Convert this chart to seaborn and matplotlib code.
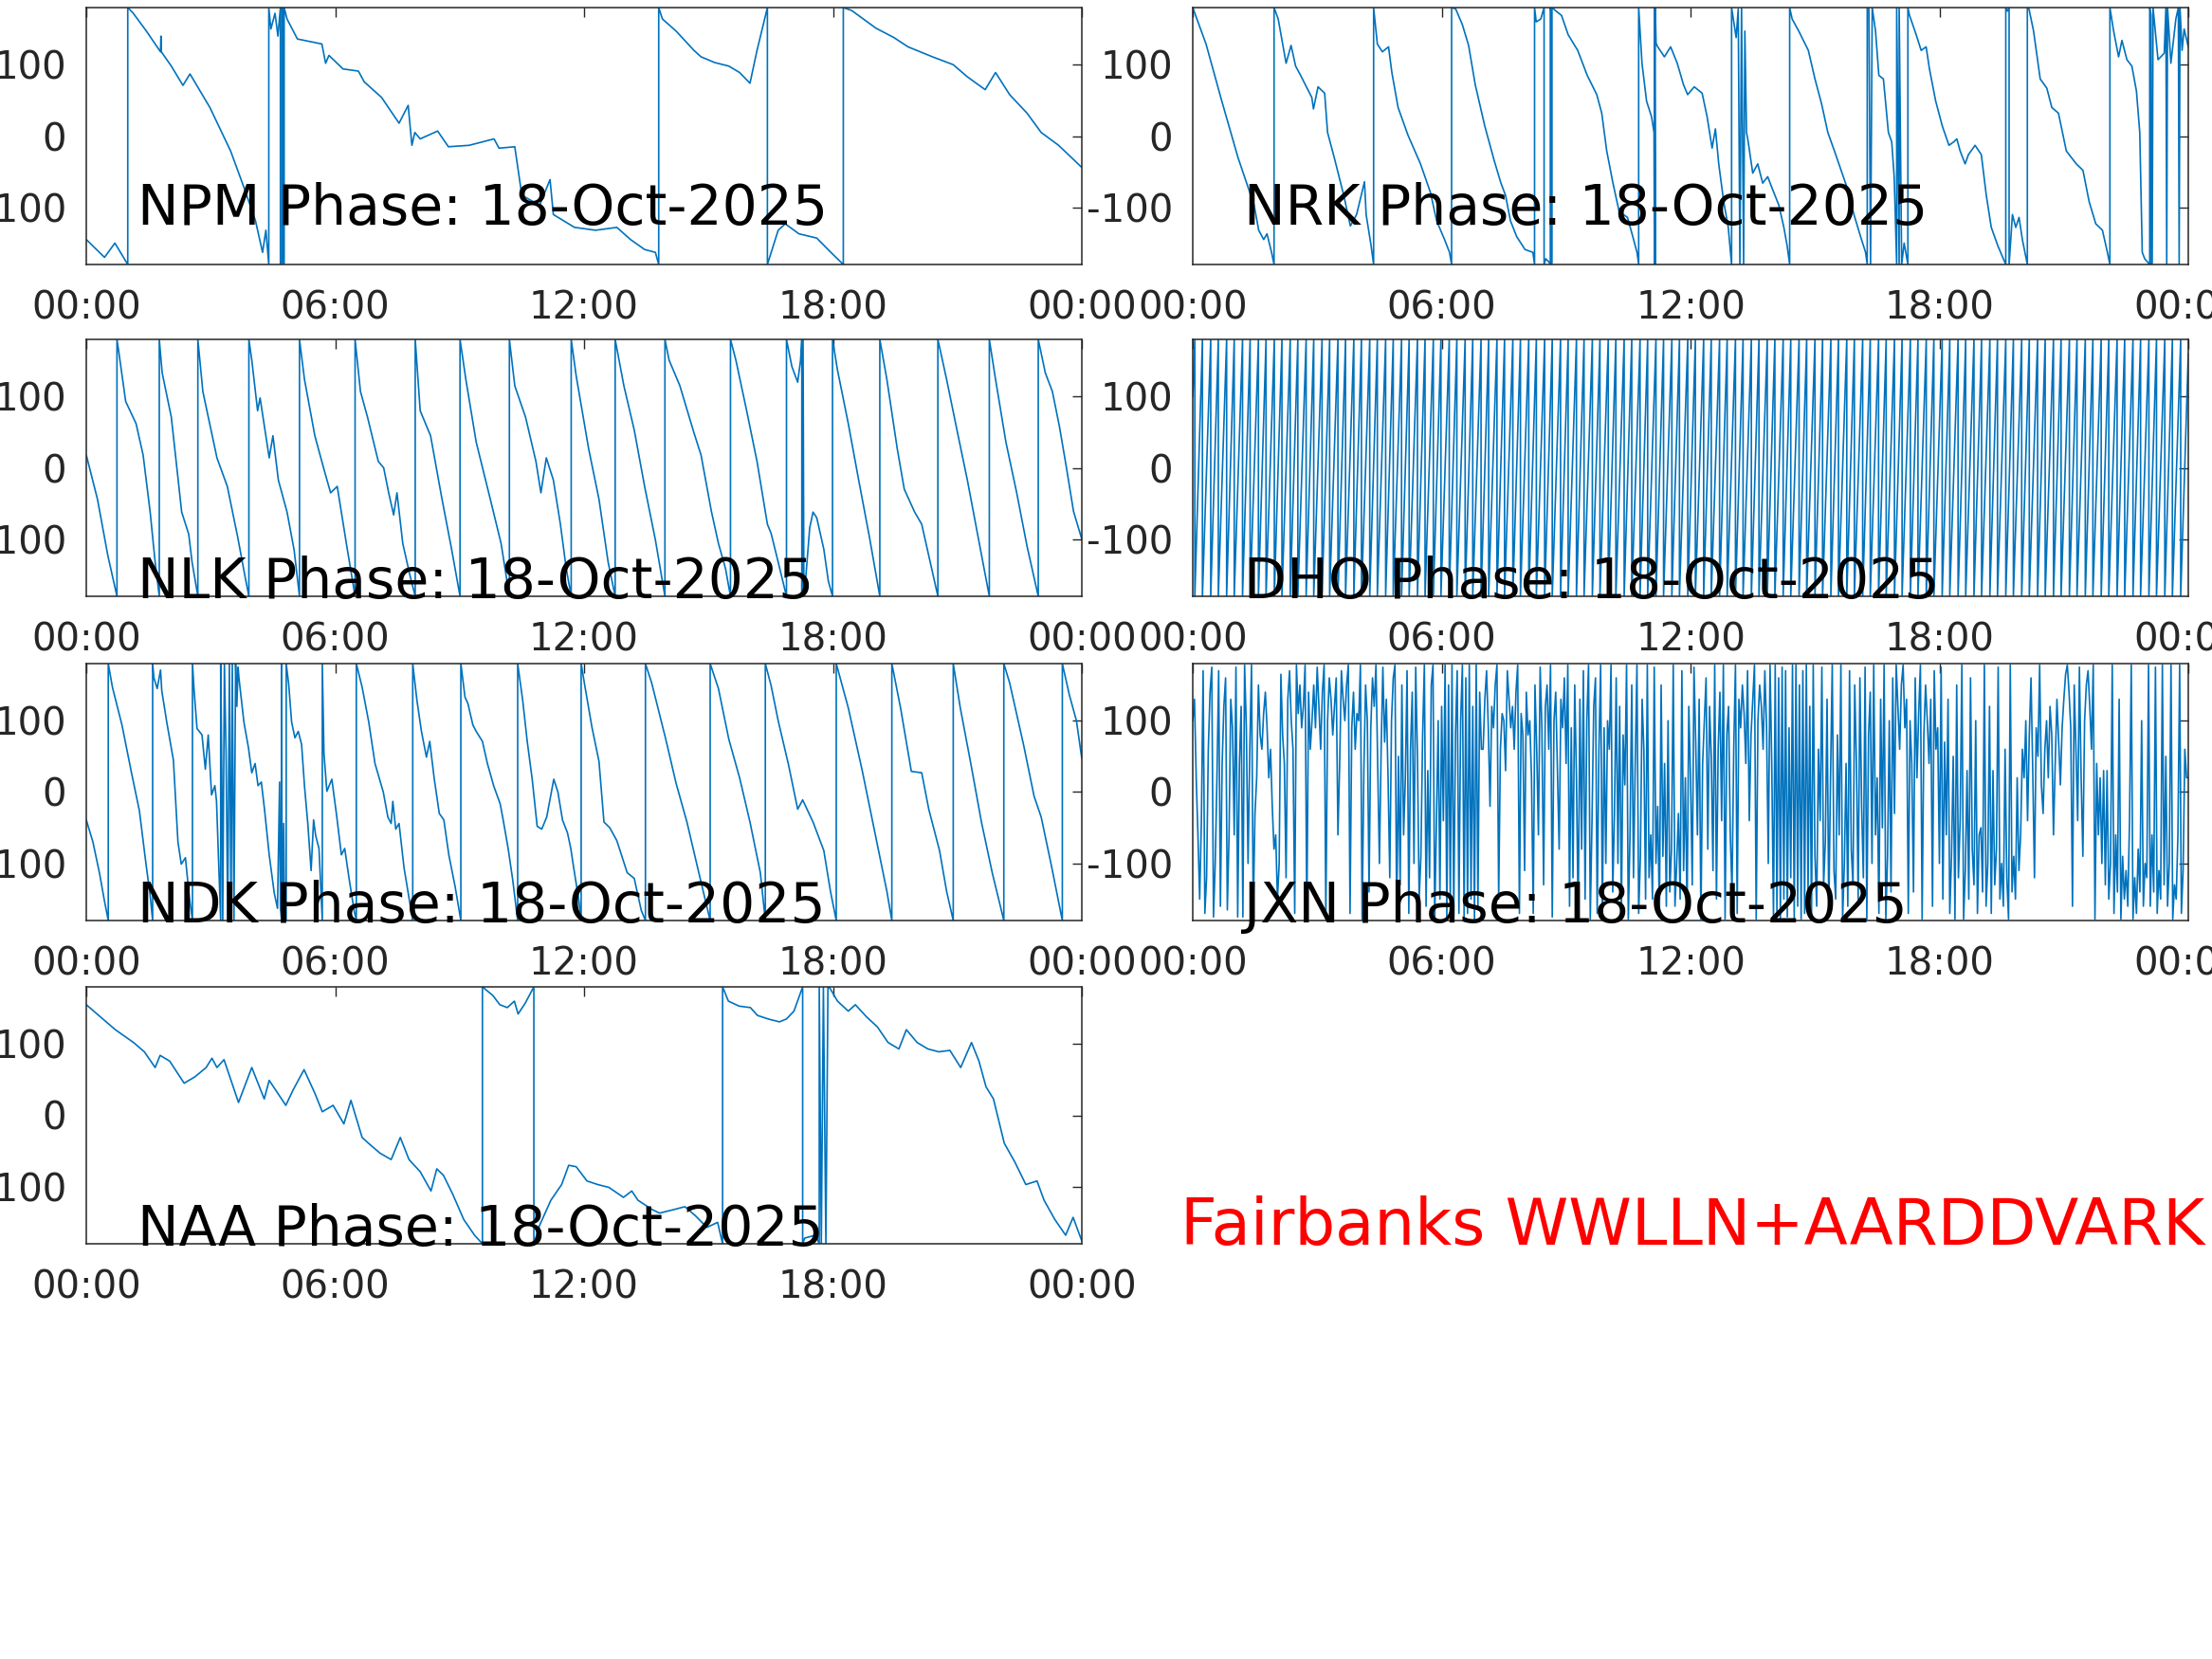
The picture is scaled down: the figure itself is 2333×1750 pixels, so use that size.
import matplotlib
matplotlib.use("Agg")
import matplotlib.pyplot as plt
import seaborn as sns

# station phase traces: time in hours (UT), phase in degrees
# a wrap is written as two points at the same time (+180 / -180)
npm_t = [0.00, 0.44, 0.69, 1.00, 1.00, 1.12, 1.45, 1.79, 1.80, 1.81, 2.05, 2.33, 2.50, 2.98, 3.48, 3.82, 4.08, 4.25, 4.33, 4.40,
         4.40, 4.45, 4.55, 4.62, 4.68, 4.68, 4.72, 4.72, 4.74, 4.74, 4.77, 4.77, 4.84, 5.09, 5.68, 5.77, 5.85, 6.19, 6.56, 6.70,
         7.12, 7.54, 7.76, 7.85, 7.92, 8.05, 8.47, 8.73, 9.23, 9.83, 9.95, 10.33, 10.50, 10.93, 11.18, 11.26, 11.77, 12.28, 12.79,
         13.12, 13.46, 13.72, 13.80, 13.80, 13.89, 14.22, 14.65, 14.82, 15.15, 15.49, 15.75, 16.00, 16.17, 16.42, 16.42, 16.68,
         16.85, 17.18, 17.61, 17.95, 18.25, 18.25, 18.45, 19.04, 19.47, 19.81, 20.40, 20.90, 21.24, 21.67, 21.92, 22.26, 22.68,
         23.02, 23.44, 24.00]
npm_p = [-145, -170, -150, -180, 180, 173, 147, 118, 140, 118, 98, 71, 87, 40, -21, -75, -119, -163, -132, -180,
         180, 150, 172, 140, 180, -180, -175, 180, 170, -180, -178, 180, 164, 136, 129, 102, 113, 94, 91, 76,
         54, 18, 43, -13, 5, -4, 7, -15, -13, -4, -17, -15, -83, -97, -61, -110, -128, -132, -128,
         -145, -159, -163, -180, 180, 164, 147, 120, 111, 103, 98, 89, 74, 120, 180, -180, -132,
         -123, -137, -143, -163, -180, 180, 176, 151, 138, 125, 111, 100, 83, 65, 89, 58, 32,
         5, -13, -44]

nrk_t = [0.00, 0.32, 0.70, 1.09, 1.48, 1.59, 1.71, 1.79, 1.90, 1.96,
         1.96, 2.06, 2.25, 2.37, 2.48, 2.60, 2.87, 2.91, 3.02, 3.18, 3.25, 3.41, 3.64, 3.80, 3.95, 4.14, 4.18, 4.30, 4.36,
         4.36, 4.45, 4.57, 4.72, 4.80, 4.95, 5.19, 5.49, 5.73, 5.88, 6.07, 6.19, 6.24,
         6.24, 6.34, 6.50, 6.65, 6.81, 7.04, 7.27, 7.43, 7.54, 7.66, 7.81, 8.01, 8.20, 8.24,
         8.24, 8.28, 8.39, 8.47, 8.47, 8.51, 8.58, 8.62, 8.62, 8.64, 8.64, 8.66, 8.66, 8.74, 8.89, 9.05, 9.28, 9.51, 9.74,
         9.86, 9.98, 10.13, 10.28, 10.48, 10.59, 10.71, 10.75,
         10.75, 10.83, 10.94, 11.06, 11.12, 11.13, 11.13, 11.15, 11.15, 11.17, 11.21, 11.37, 11.52, 11.68, 11.83, 11.93,
         12.09, 12.28, 12.40, 12.52, 12.60, 12.68, 12.80, 12.91, 12.99,
         12.99, 13.10, 13.15, 13.19, 13.23, 13.28, 13.31, 13.35, 13.39, 13.50, 13.62, 13.74, 13.86, 13.98, 14.13, 14.25,
         14.33, 14.39,
         14.39, 14.45, 14.61, 14.84, 15.00, 15.16, 15.31, 15.47, 15.63, 15.79, 15.94, 16.10, 16.22, 16.26,
         16.26, 16.30, 16.34, 16.38, 16.46, 16.54, 16.65, 16.77, 16.85, 16.91, 16.97, 16.97, 17.03, 17.03, 17.09, 17.15,
         17.24, 17.24, 17.28, 17.44, 17.56, 17.68, 17.76, 17.91, 18.07, 18.23, 18.35, 18.42, 18.50, 18.62, 18.70, 18.86,
         19.01, 19.13, 19.25, 19.41, 19.60,
         19.60, 19.64, 19.68, 19.68, 19.76, 19.84, 19.92, 20.00, 20.12,
         20.12, 20.16, 20.27, 20.43, 20.59, 20.71, 20.87, 21.06, 21.30, 21.46, 21.61, 21.77, 21.93, 22.05, 22.11,
         22.11, 22.20, 22.32, 22.40, 22.52, 22.64, 22.75, 22.83, 22.89, 22.95, 23.07, 23.07, 23.10, 23.11, 23.13, 23.15,
         23.27, 23.42, 23.46, 23.48, 23.50, 23.58, 23.70, 23.76, 23.78, 23.80, 23.85, 23.90, 24.00]
nrk_p = [180, 129, 49, -30, -97, -132, -145, -137, -163, -180,
         180, 164, 102, 127, 98, 85, 54, 38, 69, 60, 5, -30, -83, -126, -110, -64, -110, -154, -180,
         180, 129, 118, 125, 89, 40, 1, -39, -79, -119, -145, -163, -180,
         180, 178, 156, 127, 72, 14, -35, -66, -83, -119, -141, -159, -163, -180,
         180, 160, 164, 180, -180, -172, -176, -180, 180, 175, -180, -178, 180, 176, 169, 142, 120, 85, 58,
         32, -21, -66, -106, -114, -137, -163, -180,
         180, 102, 49, 27, 5, -180, 180, -180, 180, 130, 125, 111, 125, 102, 72, 58,
         69, 60, 27, -17, 10, -39, -92, -128, -180,
         180, 138, 178, -180, 180, -180, 147, 5, -8, -52, -39, -66, -57, -75, -97, -128,
         -154, -180,
         180, 164, 147, 120, 80, 45, 5, -21, -48, -75, -110, -141, -163, -180,
         180, 178, -180, 180, 147, 85, 80, 5, -8, -57, -180, 180, -180, 180, -180, -150,
         -180, 180, 169, 142, 120, 125, 94, 49, 14, -13, -8, -4, -21, -39, -26, -13,
         -26, -83, -128, -154, -180,
         180, 175, 180, -180, -110, -128, -114, -145, -180,
         180, 178, 147, 80, 67, 40, 32, -21, -39, -48, -92, -123, -132, -163, -180,
         180, 147, 111, 134, 107, 98, 63, 5, -163, -172, -180, 180, 170, -180, -178, 180,
         107, 116, 180, -180, 180, 102, 164, 180, -180, 180, 120, 150, 125]

nlk_t = [0.00, 0.27, 0.52, 0.74,
         0.74, 0.78, 0.95, 1.20, 1.37, 1.54, 1.66, 1.76,
         1.76, 1.83, 2.05, 2.30, 2.47, 2.55, 2.69,
         2.69, 2.81, 3.15, 3.40, 3.65, 3.82, 3.92,
         3.92, 3.99, 4.13, 4.19, 4.33, 4.41, 4.50, 4.63, 4.84, 5.01, 5.14,
         5.14, 5.26, 5.51, 5.72, 5.89, 6.05, 6.27, 6.48,
         6.48, 6.61, 6.78, 7.04, 7.17, 7.29, 7.41, 7.49, 7.63, 7.80, 7.93,
         7.93, 8.05, 8.30, 8.56, 8.81, 9.01,
         9.01, 9.15, 9.40, 9.74, 10.00, 10.20,
         10.20, 10.33, 10.59, 10.84, 10.96, 11.09, 11.26, 11.43, 11.57, 11.69,
         11.69, 11.81, 12.11, 12.36, 12.58, 12.75,
         12.75, 12.96, 13.21, 13.46, 13.72, 13.95,
         13.95, 14.05, 14.31, 14.65, 14.82, 15.07, 15.24, 15.41, 15.53,
         15.53, 15.66, 15.92, 16.17, 16.42, 16.51, 16.68, 16.88,
         16.88, 17.01, 17.15, 17.22, 17.25, 17.25, 17.28, 17.30, 17.35, 17.44, 17.52, 17.61, 17.78, 17.89, 17.99,
         17.99, 18.11, 18.37, 18.62, 18.88, 19.13,
         19.13, 19.30, 19.55, 19.72, 19.89, 19.97, 20.14, 20.31, 20.53,
         20.53, 20.74, 20.99, 21.24, 21.50, 21.77,
         21.77, 21.92, 22.17, 22.43, 22.68, 22.95,
         22.95, 23.12, 23.29, 23.46, 23.63, 23.80, 24.00]
nlk_p = [18, -44, -123, -180,
         180, 164, 93, 62, 18, -62, -132, -180,
         180, 133, 71, -62, -93, -132, -180,
         180, 107, 14, -26, -97, -150, -180,
         180, 151, 80, 98, 45, 14, 45, -17, -62, -115, -180,
         180, 124, 45, 0, -35, -26, -106, -180,
         180, 107, 71, 9, 0, -35, -66, -35, -106, -150, -180,
         180, 80, 45, -39, -115, -180,
         180, 124, 36, -44, -106, -180,
         180, 115, 71, 9, -35, 14, -17, -79, -141, -180,
         180, 129, 27, -44, -132, -180,
         180, 115, 53, -26, -101, -180,
         180, 151, 115, 49, 18, -61, -106, -141, -180,
         180, 151, 80, 9, -79, -92, -132, -180,
         180, 142, 120, 151, 180, -180, 180, -180, -150, -84, -62, -70, -114, -159, -180,
         180, 137, 62, -17, -97, -180,
         180, 124, 27, -30, -52, -62, -79, -123, -180,
         180, 124, 53, -17, -97, -180,
         180, 124, 36, -35, -110, -180,
         180, 133, 107, 58, 0, -61, -100]

ndk_t = [0.00, 0.16, 0.32, 0.43, 0.53,
         0.53, 0.63, 0.86, 1.09, 1.28, 1.44, 1.54, 1.60,
         1.60, 1.63, 1.71, 1.79, 1.82, 1.94, 2.10, 2.21, 2.29, 2.39, 2.48, 2.56,
         2.56, 2.60, 2.67, 2.79, 2.87, 2.94, 3.02, 3.10, 3.14, 3.18, 3.24, 3.24, 3.27, 3.29, 3.33, 3.37, 3.41, 3.45,
         3.49, 3.52, 3.56, 3.60, 3.63, 3.66, 3.68, 3.80, 3.91, 3.99, 4.07, 4.14, 4.22, 4.30, 4.41, 4.53, 4.61, 4.66,
         4.68, 4.71, 4.71, 4.72, 4.76, 4.78, 4.82, 4.82,
         4.88, 4.95, 5.03, 5.11, 5.19, 5.26, 5.34, 5.42, 5.48, 5.53, 5.61, 5.69,
         5.69, 5.73, 5.80, 5.92, 6.04, 6.15, 6.23, 6.34, 6.46, 6.51,
         6.51, 6.65, 6.81, 6.96, 7.16, 7.27, 7.35, 7.39, 7.46, 7.54, 7.66, 7.77, 7.87,
         7.87, 7.97, 8.08, 8.20, 8.28, 8.39, 8.51, 8.62, 8.74, 8.89, 9.03,
         9.03, 9.13, 9.20, 9.32, 9.40, 9.55, 9.67, 9.82, 9.98, 10.05, 10.17, 10.28, 10.40,
         10.40, 10.52, 10.63, 10.75, 10.87, 10.98, 11.10, 11.17, 11.27, 11.37, 11.48, 11.60, 11.68, 11.75, 11.87, 11.93,
         11.93, 12.03, 12.19, 12.36, 12.48, 12.62, 12.79, 13.04, 13.21, 13.38, 13.48,
         13.48, 13.63, 13.97, 14.22, 14.48, 14.73, 15.04,
         15.04, 15.24, 15.49, 15.75, 16.00, 16.25, 16.37,
         16.37, 16.51, 16.68, 16.93, 17.15, 17.27, 17.52, 17.78, 17.94, 18.08,
         18.08, 18.37, 18.71, 19.05, 19.30, 19.42,
         19.42, 19.63, 19.89, 20.14, 20.31, 20.57, 20.74, 20.90,
         20.90, 21.07, 21.33, 21.58, 21.84, 22.12,
         22.12, 22.26, 22.60, 22.85, 23.02, 23.27, 23.53,
         23.53, 23.70, 23.87, 24.00]
ndk_p = [-39, -70, -114, -150, -180,
         180, 147, 94, 27, -26, -101, -145, -180,
         180, 160, 145, 171, 142, 98, 45, -70, -101, -92, -145, -180,
         180, 142, 89, 80, 32, 80, -4, 9, -13, -79, -180, 180, 9, -180, 180, 54, -180, 180,
         -180, 180, -180, 180, 120, 175, 160, 98, 62, 27, 40, 9, 14, -26, -88, -141, -163, 14,
         -163, -180, 180, -180, -44, -180, -180, 180,
         151, 98, 76, 85, 67, 9, -44, -110, -39, -61, -79, -180,
         180, 54, 1, 18, -35, -88, -79, -123, -167, -180,
         180, 147, 98, 40, 0, -35, -44, -13, -52, -44, -106, -145, -180,
         180, 129, 85, 49, 71, 18, -30, -39, -88, -132, -180,
         180, 133, 124, 94, 85, 71, 40, 9, -17, -39, -79, -123, -180,
         180, 129, 71, 18, -48, -52, -35, -13, 18, 0, -39, -57, -79, -106, -150, -180,
         180, 145, 91, 43, -42, -50, -68, -113, -121, -166, -180,
         180, 153, 74, 12, -42, -104, -180,
         180, 145, 74, 20, -42, -113, -180,
         180, 149, 100, 38, -24, -11, -42, -82, -139, -180,
         180, 118, 29, -68, -139, -180,
         180, 118, 29, 27, -24, -82, -139, -180,
         180, 118, 38, -42, -113, -180,
         180, 153, 65, -6, -35, -104, -180,
         180, 136, 100, 47]

naa_t = [0.00, 0.26, 0.70, 1.14, 1.40, 1.66, 1.78, 2.01, 2.36, 2.62, 2.89, 3.03, 3.15, 3.32, 3.67, 3.99, 4.29, 4.41, 4.81,
         4.99, 5.25, 5.51, 5.69, 5.95, 6.21, 6.38, 6.65, 6.82, 7.08, 7.35, 7.57, 7.78, 8.05, 8.31, 8.45, 8.61, 8.83, 9.10,
         9.36, 9.55,
         9.55, 9.80, 9.97, 10.15, 10.32, 10.41, 10.58, 10.79,
         10.79, 10.93, 11.20, 11.46, 11.63, 11.81, 12.07, 12.33, 12.60, 12.95, 13.15, 13.30, 13.64, 13.82, 14.17, 14.43,
         14.69, 14.96, 15.22, 15.34,
         15.34, 15.48, 15.74, 16.01, 16.18, 16.44, 16.71, 16.88, 17.06, 17.27,
         17.27, 17.32, 17.58, 17.67, 17.67, 17.72, 17.77, 17.83, 17.88,
         17.93, 18.11, 18.37, 18.54, 18.81, 19.07, 19.33, 19.59, 19.77, 20.03, 20.29, 20.55, 20.82, 21.08, 21.34, 21.52,
         21.69, 21.87, 22.13, 22.39, 22.65, 22.92, 23.09, 23.35, 23.61, 23.79, 24.00]
naa_p = [155, 142, 120, 102, 89, 67, 84, 76, 45, 54, 67, 80, 67, 78, 18, 67, 23, 49, 14,
         36, 64, 31, 5, 14, -12, 21, -31, -40, -53, -62, -31, -62, -79, -106, -75, -84, -110, -146,
         -168, -180,
         180, 168, 155, 151, 160, 142, 157, 180,
         -180, -154, -119, -97, -70, -72, -92, -97, -101, -115, -106, -119, -132, -137, -132, -128,
         -141, -157, -150, -180,
         180, 160, 153, 151, 140, 135, 131, 135, 146, 180,
         -180, -172, -168, -180, 180, -180, 180, -180, 180,
         178, 160, 146, 155, 138, 124, 102, 93, 120, 102, 93, 89, 91, 67, 102, 76,
         40, 23, -39, -66, -97, -92, -119, -146, -168, -143, -176]

# DHO: minutes of each +180 -> -180 wrap
dho_wraps_min = [3, 14, 26, 37, 49, 60, 72, 83, 95, 106, 118, 129, 141, 152, 164, 175, 187, 198, 210, 221,
                 233, 244, 256, 267, 279, 290, 302, 313, 325, 336, 348, 359, 371, 382, 394, 405, 417, 428, 440, 451,
                 463, 474, 486, 497, 509, 520, 532, 543, 555, 566, 578, 589, 601, 612, 624, 635, 647, 658, 670, 681,
                 693, 704, 716, 727, 739, 750, 762, 773, 785, 796, 808, 819, 831, 842, 854, 865, 877, 888, 900, 911,
                 923, 934, 946, 957, 969, 980, 992, 1003, 1015, 1026, 1038, 1049, 1061, 1072, 1084, 1095, 1107, 1118,
                 1130, 1141, 1153, 1164, 1176, 1187, 1199, 1210, 1222, 1233, 1245, 1256, 1268, 1279, 1291, 1302, 1314,
                 1325, 1337, 1348, 1360, 1371, 1383, 1394, 1406, 1417, 1429]
dho_start_phase = 100
dho_end_phase = 160

# JXN: one value every 2.5 minutes, one row per hour
jxn_p = [100, 130, 20, -60, -150, -40, 170, -170, -120, 60, 140, 175, -175, -100, 20, 170, -160, 40, 120, 160, -165, -60, 130, 90,
         -60, 175, -175, 40, 120, -175, 178, 90, -100, 60, 178, -170, -30, 20, 150, 80, 60, 110, 140, 90, 20, 60, -20, -80,
         -60, -150, -100, 165, 80, 40, -120, 130, 170, 100, 60, -170, 178, 110, 150, 90, 120, 178, -178, 140, 60, 100, 150, 90,
         175, 120, 60, 140, 178, -175, 100, 160, 130, 80, 120, 160, -60, 40, 170, 130, 100, 150, 178, -170, 90, 140, 60, 110,
         100, 178, -178, 30, 150, 100, -140, 90, 160, 120, 178, 40, -100, 60, 175, 70, 130, 20, -120, 100, 160, 178, -178, 50,
         -130, 150, -60, 20, 170, -170, 60, 140, -100, 175, 50, -150, -90, 80, 178, -160, 30, -120, 150, 178, -178, -40, 100, -150,
         120, -40, 178, -178, 150, -160, 178, -175, 80, 170, -170, 100, 178, -178, 160, -170, 178, -150, 120, -178, 178, -160, 140, 60,
         60, 130, 170, 90, -20, 120, 90, 150, 178, -150, 60, 110, 100, 30, 170, 130, 90, 120, 60, 140, 178, -170, 110, 80,
         -110, 140, 80, 100, 20, -170, 150, 60, -60, 175, 90, -130, 120, 150, 60, 178, -175, 100, 140, 30, -80, 130, 90, 160,
         40, 178, -160, 90, -120, 150, 20, -178, 130, -80, 170, -150, 100, 178, -178, -40, 120, 160, -170, 60, 178, -178, 90, -100,
         100, 60, 178, -140, -30, 160, -100, 120, -170, 80, 10, 178, -178, -60, 150, -120, 40, 178, -170, -90, 130, 60, -150, 178,
         -120, -60, -150, 175, -100, -20, -170, 150, -90, 40, -160, 100, -140, -80, 178, -160, -100, -30, -150, 170, -110, 20, -170, 120,
         20, -130, 175, 70, -60, 130, -178, 40, 100, 160, -80, 120, 50, -110, 178, -150, 60, 140, -40, 178, -178, 80, 120, -60,
         -140, 60, 178, -170, 130, 90, 150, 110, 40, 170, -40, 80, 130, 178, -178, 100, 150, 120, 60, 170, 90, -100, 178, 40,
         -178, 178, -170, 160, -178, 175, -150, 170, -175, 90, -120, 178, -178, 178, -160, 150, -178, 170, -170, 178, -140, 120, -178, 178,
         -90, -160, 60, -40, 175, -130, -70, 130, -170, 20, 178, -110, -150, 80, -60, 178, -178, -100, 40, -160, 170, -80, -130, 150,
         40, -150, 160, -20, -120, 175, -178, 80, 140, -100, 178, -60, 20, -170, 130, -50, 178, -178, -90, 100, -140, 160, -30, 178,
         120, 60, 150, 178, 90, 130, -170, 100, 40, -140, 160, 20, 110, 178, -178, 80, 150, 100, 40, 130, -160, 170, 60, 90,
         -100, 175, -150, 70, -60, 130, -170, -90, 50, -178, 150, -120, -40, 178, -178, -110, 30, -150, 160, -80, -130, 100, -170, -60,
         -50, -140, 178, -160, -100, 120, -170, 30, -130, -80, 175, -150, -100, -160, 60, -120, -178, 178, -140, -90, -150, 20, -110, -60,
         60, 20, 100, -40, 80, 160, 30, -120, 90, 50, 178, 10, -30, 60, 100, 20, 120, 80, -60, 40, 130, 70, 10, 90,
         130, 165, 178, 140, 90, -160, 150, 60, -40, 175, 20, -90, 100, 150, 170, 120, 60, 178, -178, 40, -60, 20, -100, 30,
         -130, 30, -150, -100, 178, -170, -60, -140, 130, -178, -90, -150, -110, -160, -40, 178, -178, -120, -170, -80, -140, 100, -160, -100,
         -120, 178, -160, -60, -140, 175, -170, -110, -150, 178, -130, 50, -160, -100, 178, -178, -130, -150, -60, 178, -170, -110, 60, 20,
         20]

tick_hours = [0, 6, 12, 18, 24]
tick_labels = ["00:00", "06:00", "12:00", "18:00", "00:00"]
date_str = "18-Oct-2025"

LINE = "#0072BD"
INK = "#262626"

sns.set_style("white")
plt.rcParams["font.family"] = ["DejaVu Sans"]

# DHO trace from its wrap list
dho_t = [0.0]
dho_p = [dho_start_phase]
for w in dho_wraps_min:
    dho_t += [w / 60, w / 60]
    dho_p += [180, -180]
dho_t.append(24.0)
dho_p.append(dho_end_phase)

jxn_t = [i * 24 / (len(jxn_p) - 1) for i in range(len(jxn_p))]

fig = plt.figure(figsize=(23.33, 17.5), dpi=100)
W, H = 2333, 1750

# (name, times, phases, axes left/top in pixels, label baseline in axes fraction)
panels = [
    ("NPM", npm_t, npm_p, 91, 8, 0.155),
    ("NRK", nrk_t, nrk_p, 1258, 8, 0.155),
    ("NLK", nlk_t, nlk_p, 91, 358, -0.009),
    ("DHO", dho_t, dho_p, 1258, 358, -0.009),
    ("NDK", ndk_t, ndk_p, 91, 700, -0.008),
    ("JXN", jxn_t, jxn_p, 1258, 700, -0.008),
    ("NAA", naa_t, naa_p, 91, 1041, -0.008),
]

for name, t, p, left, top, ty in panels:
    ax = fig.add_axes([left / W, 1 - (top + 271) / H, 1050 / W, 271 / H])
    sns.lineplot(x=t, y=p, ax=ax, estimator=None, sort=False, color=LINE, linewidth=1.2)
    ax.set_xlim(0, 24)
    ax.set_ylim(-180, 180)
    ax.set_xticks(tick_hours)
    ax.set_xticklabels(tick_labels)
    ax.set_yticks([-100, 0, 100])
    ax.set_yticklabels(["-100", "0", "100"])
    ax.set_xlabel("")
    ax.set_ylabel("")
    ax.tick_params(direction="in", length=7, width=1, top=True, right=True,
                   labelsize=29, colors=INK)
    ax.tick_params(axis="x", pad=19)
    ax.tick_params(axis="y", pad=15)
    for s in ax.spines.values():
        s.set_color(INK)
        s.set_linewidth(1.1)
    ax.text(0.051, ty, f"{name} Phase: {date_str}", transform=ax.transAxes,
            fontsize=42, ha="left", va="baseline", color="black")

fig.text(1245 / W, 1 - 1313 / H, "Fairbanks WWLLN+AARDDVARK", color="red",
         fontsize=48.5, ha="left", va="baseline")

fig.savefig("out.png", dpi=100)
